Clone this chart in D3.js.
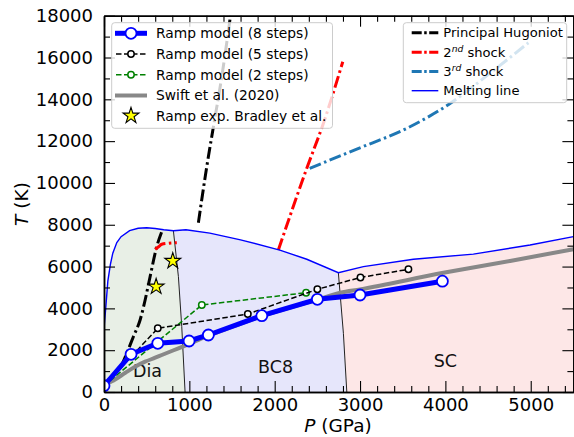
<!DOCTYPE html>
<html><head><meta charset="utf-8">
<script src="https://cdn.jsdelivr.net/npm/d3@7"></script>
<style>body{margin:0;background:#fff} svg{display:block;font-family:"DejaVu Sans",sans-serif}</style>
</head><body><svg id="c" width="574" height="437"></svg>
<script>
// ---------- data (P in GPa, T in K) ----------
const meltP = [0, 5, 20, 45, 75, 103, 150, 200, 300, 400, 500, 600, 700, 813, 960, 1240, 1600, 2060, 2376, 2746, 3039, 3625, 4328, 4992, 5500];
const meltT = [2900, 3290, 4000, 5300, 6100, 6640, 7150, 7430, 7720, 7830, 7860, 7820, 7760, 7716, 7760, 7600, 7280, 6790, 6350, 5708, 5995, 6350, 6595, 7033, 7430];
const diaBc8P = [813, 872, 911, 950];
const diaBc8T = [7716, 5516, 3124, 0];
const bc8ScP = [2746, 2805, 2845];
const bc8ScT = [5708, 2808, 0];
const hugLoP = [200, 267, 344, 423, 482, 540, 618, 677];
const hugLoT = [1200, 1851, 2646, 3445, 4401, 5516, 6950, 7668];
const hugHiP = [1106, 1204, 1282, 1380, 1482];
const hugHiT = [8100, 10777, 12690, 15082, 18000];
const shock2LoP = [599, 640, 677, 760, 853];
const shock2LoT = [6826, 6950, 7066, 7120, 7142];
const shock2HiP = [2043, 2376, 2571, 2798];
const shock2HiT = [6794, 10700, 12855, 15800];
const shock3P = [2410, 2962, 3548, 4055, 4524, 4973];
const shock3T = [10700, 11620, 12613, 13800, 15250, 16708];
const ramp8P = [0, 317, 630, 997, 1223, 1849, 2500, 3000, 3965];
const ramp8T = [300, 1804, 2330, 2440, 2727, 3651, 4435, 4641, 5300];
const ramp5P = [0, 630, 1685, 2500, 3005, 3567];
const ramp5T = [300, 3047, 3731, 4913, 5480, 5869];
const ramp2P = [0, 1146, 2368];
const ramp2T = [300, 4162, 4750];
const swiftP = [0, 50, 130, 250, 364, 482, 600, 677, 872, 1000, 1250, 1500, 1850, 2200, 2500, 2769, 3000, 3977, 4758, 5500];
const swiftT = [300, 420, 600, 920, 1210, 1450, 1640, 1770, 2090, 2300, 2740, 3110, 3630, 4060, 4420, 4750, 4910, 5700, 6270, 6830];
const bradleyP = [611, 806];
const bradleyT = [5038, 6268];
const phaseLabels = ["Dia", "BC8", "SC"];
const phaseLabelP = [510, 2010, 4000];
const phaseLabelT = [720, 910, 1200];
const xTicks = [0, 1000, 2000, 3000, 4000, 5000];
const yTicks = [0, 2000, 4000, 6000, 8000, 10000, 12000, 14000, 16000, 18000];
const legend1Labels = ["Ramp model (8 steps)", "Ramp model (5 steps)", "Ramp model (2 steps)", "Swift et al. (2020)", "Ramp exp. Bradley et al."];

// ---------- setup ----------
const svg = d3.select('#c');
const X0 = 104, X1 = 573.4, Y0 = 392, Y1 = 15.7;
const x = d3.scaleLinear([0, 5500], [X0, X1]);
const y = d3.scaleLinear([0, 18000], [Y0, Y1]);
const zip = (P, T) => P.map((p, i) => [p, T[i]]);
const line = d3.line().x(d => x(d[0])).y(d => y(d[1]));
const smooth = d3.line().x(d => x(d[0])).y(d => y(d[1])).curve(d3.curveMonotoneX);

svg.append('defs').append('clipPath').attr('id', 'clip')
  .append('rect').attr('x', X0).attr('y', Y1).attr('width', X1 - X0).attr('height', Y0 - Y1);
const plot = svg.append('g').attr('clip-path', 'url(#clip)');

const melt = zip(meltP, meltT);
const dB = zip(diaBc8P, diaBc8T);
const bS = zip(bc8ScP, bc8ScT);

// phase regions
const diaPoly = [[0, 0]].concat(melt.filter(d => d[0] <= 813)).concat(dB.slice(1));
const bc8Poly = dB.slice().reverse().concat(melt.filter(d => d[0] > 813 && d[0] < 2746)).concat(bS);
const scPoly = bS.slice().reverse().concat(melt.filter(d => d[0] > 2746)).concat([[5500, 0]]);
plot.append('path').attr('d', line(diaPoly) + 'Z').attr('fill', '#e8efe6');
plot.append('path').attr('d', line(bc8Poly) + 'Z').attr('fill', '#e6e6fb');
plot.append('path').attr('d', line(scPoly) + 'Z').attr('fill', '#fde7e7');

// boundaries
[dB, bS].forEach(b => plot.append('path').attr('d', line(b)).attr('fill', 'none')
  .attr('stroke', '#222').attr('stroke-width', 1));

// phase labels
phaseLabels.forEach((t, i) => plot.append('text').attr('x', x(phaseLabelP[i])).attr('y', y(phaseLabelT[i]))
  .attr('text-anchor', 'middle').attr('font-size', 17.5).attr('fill', '#111').text(t));

// shock lines
const dashdot = '12,3.5,2.5,3.5';
const dd = (data, color) => plot.append('path').attr('d', smooth(data)).attr('fill', 'none')
  .attr('stroke', color).attr('stroke-width', 3).attr('stroke-dasharray', dashdot);
dd(zip(hugLoP, hugLoT), '#000');
dd(zip(hugHiP, hugHiT), '#000');
dd(zip(shock2LoP, shock2LoT), '#ff0000');
dd(zip(shock2HiP, shock2HiT), '#ff0000');
dd(zip(shock3P, shock3T), '#1f77b4');

// melting line
plot.append('path').attr('d', line(melt)).attr('fill', 'none').attr('stroke', '#0000ff').attr('stroke-width', 1.4);

// Swift
plot.append('path').attr('d', smooth(zip(swiftP, swiftT))).attr('fill', 'none')
  .attr('stroke', '#888').attr('stroke-width', 4);

// ramp 2 and 5
function dashed(P, T, color) {
  const d = zip(P, T);
  plot.append('path').attr('d', line(d)).attr('fill', 'none').attr('stroke', color)
    .attr('stroke-width', 1.5).attr('stroke-dasharray', '5.5,2.5');
  plot.selectAll(null).data(d).enter().append('circle')
    .attr('cx', p => x(p[0])).attr('cy', p => y(p[1])).attr('r', 3.2)
    .attr('fill', '#fff').attr('stroke', color).attr('stroke-width', 1.5);
}
dashed(ramp2P, ramp2T, '#008000');
dashed(ramp5P, ramp5T, '#000');

// ramp 8
const r8 = zip(ramp8P, ramp8T);
plot.append('path').attr('d', line(r8)).attr('fill', 'none').attr('stroke', '#0000ff').attr('stroke-width', 5);
plot.selectAll(null).data(r8).enter().append('circle')
  .attr('cx', p => x(p[0])).attr('cy', p => y(p[1])).attr('r', 5.5)
  .attr('fill', '#fff').attr('stroke', '#0000ff').attr('stroke-width', 1.8);

// stars
const star = d3.symbol().type(d3.symbolStar).size(78);
plot.selectAll(null).data(zip(bradleyP, bradleyT)).enter().append('path')
  .attr('d', star).attr('transform', p => `translate(${x(p[0])},${y(p[1])})`)
  .attr('fill', '#ffff00').attr('stroke', '#000').attr('stroke-width', 1.1);

// ---------- axes ----------
const minorX = d3.range(0, 5501, 200).filter(v => v % 1000 !== 0);
const minorY = d3.range(0, 18001, 1000).filter(v => v % 2000 !== 0);
const axG = svg.append('g');
function ax(gen, scale, tr, vals, size, labels) {
  const a = gen(scale).tickValues(vals).tickSizeInner(-size).tickSizeOuter(0);
  a.tickFormat(labels ? d3.format('d') : '');
  const g = axG.append('g').attr('transform', tr).call(a);
  g.select('.domain').attr('stroke-width', 1.5).attr('stroke', '#000');
  g.selectAll('.tick line').attr('stroke-width', 1.1).attr('stroke', '#000');
  return g;
}
const bx = ax(d3.axisBottom, x, `translate(0,${Y0})`, xTicks, 11, true);
bx.call(g => g.selectAll('text').attr('font-size', 18).attr('fill', '#000').attr('y', 6));
ax(d3.axisBottom, x, `translate(0,${Y0})`, minorX, 6, false);
ax(d3.axisTop, x, `translate(0,${Y1})`, xTicks, 11, false);
ax(d3.axisTop, x, `translate(0,${Y1})`, minorX, 6, false);
const ly = ax(d3.axisLeft, y, `translate(${X0},0)`, yTicks, 11, true);
ly.call(g => g.selectAll('text').attr('font-size', 18).attr('fill', '#000').attr('x', -11));
ax(d3.axisLeft, y, `translate(${X0},0)`, minorY, 6, false);
ax(d3.axisRight, y, `translate(${X1},0)`, yTicks, 11, false);
ax(d3.axisRight, y, `translate(${X1},0)`, minorY, 6, false);
axG.selectAll('g').attr('font-family', '"DejaVu Sans"');

// axis labels
const xl = svg.append('text').attr('x', 338).attr('y', 432).attr('text-anchor', 'middle').attr('font-size', 18.5);
xl.append('tspan').attr('font-style', 'italic').text('P');
xl.append('tspan').text(' (GPa)');
const yl = svg.append('text').attr('transform', 'translate(28,204) rotate(-90)').attr('text-anchor', 'middle').attr('font-size', 18.5);
yl.append('tspan').attr('font-style', 'italic').text('T');
yl.append('tspan').text(' (K)');

// ---------- legends ----------
const lg1 = svg.append('g');
lg1.append('rect').attr('x', 111.7).attr('y', 22.7).attr('width', 220.8).attr('height', 105.6).attr('rx', 3)
  .attr('fill', '#fff').attr('fill-opacity', 0.8).attr('stroke', '#ccc').attr('stroke-width', 1);
const rows1 = [33.3, 54, 74.7, 95.5, 115.7];
const hx0 = 115, hx1 = 147, hc = 131;
lg1.append('line').attr('x1', hx0).attr('x2', hx1).attr('y1', rows1[0]).attr('y2', rows1[0]).attr('stroke', '#0000ff').attr('stroke-width', 5);
lg1.append('circle').attr('cx', hc).attr('cy', rows1[0]).attr('r', 5.5).attr('fill', '#fff').attr('stroke', '#0000ff').attr('stroke-width', 1.8);
[['#000', 1], ['#008000', 2]].forEach(([c, i]) => {
  lg1.append('line').attr('x1', hx0).attr('x2', hx1).attr('y1', rows1[i]).attr('y2', rows1[i]).attr('stroke', c)
    .attr('stroke-width', 1.5).attr('stroke-dasharray', '5.5,2.5').attr('stroke-dashoffset', -1);
  lg1.append('circle').attr('cx', hc).attr('cy', rows1[i]).attr('r', 3.2).attr('fill', '#fff').attr('stroke', c).attr('stroke-width', 1.5);
});
lg1.append('line').attr('x1', hx0).attr('x2', hx1).attr('y1', rows1[3]).attr('y2', rows1[3]).attr('stroke', '#888').attr('stroke-width', 4);
lg1.append('path').attr('d', star).attr('transform', `translate(${hc},${rows1[4]})`).attr('fill', '#ffff00').attr('stroke', '#000').attr('stroke-width', 1.1);
legend1Labels.forEach((t, i) => lg1.append('text').attr('x', 156).attr('y', rows1[i]).attr('dy', '0.35em')
  .attr('font-size', 13.8).text(t));

const lg2 = svg.append('g');
lg2.append('rect').attr('x', 403.3).attr('y', 22.7).attr('width', 163.4).attr('height', 80).attr('rx', 3)
  .attr('fill', '#fff').attr('fill-opacity', 0.8).attr('stroke', '#ccc').attr('stroke-width', 1);
const rows2 = [32.7, 52.2, 71.5, 90.7];
const cols2 = ['#000', '#ff0000', '#1f77b4'];
cols2.forEach((c, i) => lg2.append('line').attr('x1', 411.7).attr('x2', 438.3).attr('y1', rows2[i]).attr('y2', rows2[i])
  .attr('stroke', c).attr('stroke-width', 3).attr('stroke-dasharray', '10,2.5,2.5,2.5'));
lg2.append('line').attr('x1', 411.7).attr('x2', 438.3).attr('y1', rows2[3]).attr('y2', rows2[3]).attr('stroke', '#0000ff').attr('stroke-width', 1.4);
const fs2 = 13.1;
lg2.append('text').attr('x', 443.3).attr('y', rows2[0]).attr('dy', '0.35em').attr('font-size', fs2).text('Principal Hugoniot');
[['2', 'nd', 1], ['3', 'rd', 2]].forEach(([n, s, i]) => {
  const t = lg2.append('text').attr('x', 443.3).attr('y', rows2[i] + 4.6).attr('font-size', fs2);
  t.append('tspan').text(n);
  t.append('tspan').attr('font-size', 9.2).attr('font-style', 'italic').attr('dy', -5).text(s);
  t.append('tspan').attr('dy', 5).text(' shock');
});
lg2.append('text').attr('x', 443.3).attr('y', rows2[3]).attr('dy', '0.35em').attr('font-size', fs2).text('Melting line');
</script></body></html>
